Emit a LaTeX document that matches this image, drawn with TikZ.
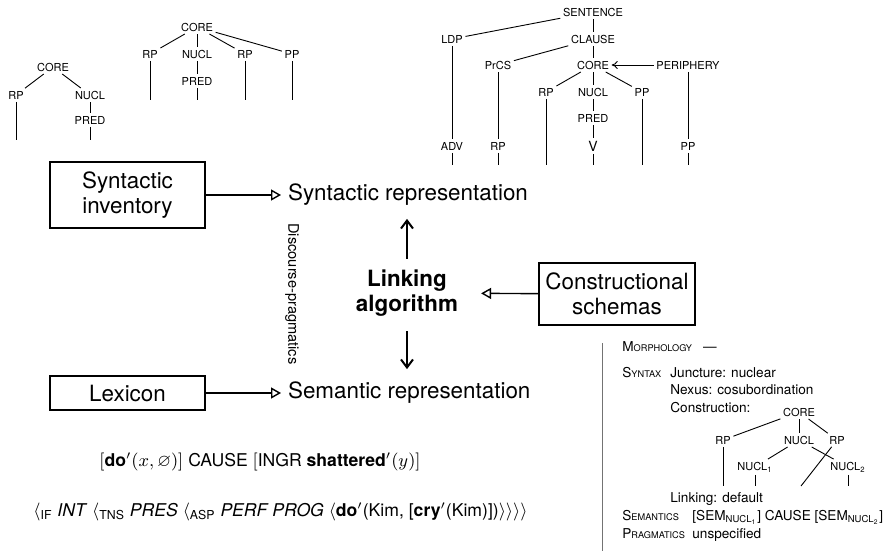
\documentclass[tikz,border=0pt]{standalone}
\usepackage{fontspec}
\setmainfont{TeX Gyre Heros}
\usepackage{amssymb}
\usetikzlibrary{arrows.meta,positioning}

\def\treefont{\fontsize{5.5}{6.5}\selectfont}
\def\bigfont{\fontsize{11.2}{12.5}\selectfont}
\def\discfont{\fontsize{7.3}{8}\selectfont}
\def\formfont{\fontsize{8.8}{10}\selectfont}
\def\panelfont{\fontsize{6.8}{8}\selectfont}
\newcommand{\fakesc}[2]{#1{\fontsize{4.6}{6}\selectfont #2}}

\begin{document}
\begin{tikzpicture}[x=0.5pt,y=-0.5pt]
    \tikzstyle{lbl}=[font=\treefont, inner sep=1.2pt]
    \tikzstyle{branch}=[draw=black, line width=0.45pt]
    \tikzstyle{srcbox}=[draw, line width=0.7pt, font=\bigfont, align=center, minimum width=77.5pt]
    \tikzstyle{repr}=[font=\bigfont, anchor=west]
    \tikzstyle{feed}=[draw, line width=0.7pt, -{Triangle[open,length=5pt,width=5.5pt]}]
    \tikzstyle{link arrow}=[draw, line width=1pt, -{Straight Barb[length=4pt,width=6pt]}]
    \tikzstyle{row}=[font=\panelfont, anchor=base west, inner sep=0pt]

    \useasboundingbox (0,0) rectangle (892,552);

    % Draw the small core tree
    \node[lbl] (A-core) at (53,67) {CORE};
    \node[lbl] (A-rp) at (16,95) {RP};
    \node[lbl] (A-nucl) at (90,95) {NUCL};
    \node[lbl] (A-pred) at (90,120) {PRED};
    \coordinate (A-rp-end) at (16,140);
    \coordinate (A-pred-end) at (90,140);
    \path[branch] (A-core) edge (A-rp) edge (A-nucl);
    \path[branch] (A-nucl) edge (A-pred);
    \path[branch] (A-rp) edge (A-rp-end);
    \path[branch] (A-pred) edge (A-pred-end);

    % Draw the core tree with four arguments
    \node[lbl] (B-core) at (197,27) {CORE};
    \node[lbl] (B-rp1) at (150,54) {RP};
    \node[lbl] (B-nucl) at (197,54) {NUCL};
    \node[lbl] (B-rp2) at (245,54) {RP};
    \node[lbl] (B-pp) at (292,54) {PP};
    \node[lbl] (B-pred) at (197,81) {PRED};
    \path[branch] (B-core) edge (B-rp1) edge (B-nucl) edge (B-rp2) edge (B-pp);
    \path[branch] (B-nucl) edge (B-pred);
    \foreach \name / \x in {rp1/150,pred/197,rp2/245,pp/292} {
        \coordinate (B-\name-end) at (\x,100);
        \path[branch] (B-\name) edge (B-\name-end);
    }

    % Draw the sentence tree
    \node[lbl] (C-sent) at (593,12) {SENTENCE};
    \node[lbl] (C-ldp) at (452,39) {LDP};
    \node[lbl] (C-clause) at (593,39) {CLAUSE};
    \node[lbl] (C-prcs) at (498,65) {PrCS};
    \node[lbl] (C-core) at (593,65) {CORE};
    \node[lbl] (C-peri) at (688,65) {PERIPHERY};
    \node[lbl] (C-rp) at (546,92) {RP};
    \node[lbl] (C-nucl) at (593,92) {NUCL};
    \node[lbl] (C-pp) at (642,92) {PP};
    \node[lbl] (C-pred) at (593,118) {PRED};
    \node[lbl] (C-adv) at (452,146) {ADV};
    \node[lbl] (C-rp2) at (498,146) {RP};
    \node[lbl, font=\fontsize{7}{8}\selectfont] (C-v) at (593,146) {V};
    \node[lbl] (C-pp2) at (688,146) {PP};
    \path[branch] (C-sent) edge (C-ldp) edge (C-clause);
    \path[branch] (C-clause) edge (C-prcs) edge (C-core);
    \path[branch] (C-core) edge (C-rp) edge (C-nucl) edge (C-pp);
    \path[branch] (C-nucl) edge (C-pred);
    \path[branch] (C-pred) edge (C-v);
    \path[branch] (C-ldp) edge (C-adv);
    \path[branch] (C-prcs) edge (C-rp2);
    \path[branch] (C-peri) edge (C-pp2);
    \path[branch, -{To[length=3pt,width=4pt]}] (C-peri) edge (C-core);
    \foreach \name / \x in {adv/452,rp2/498,rp/546,v/593,pp/642,pp2/688} {
        \coordinate (C-\name-end) at (\x,165);
        \path[branch] (C-\name) edge (C-\name-end);
    }

    % Draw the linking system
    \node[srcbox, minimum height=33pt] (syninv) at (127.5,195) {Syntactic\\inventory};
    \node[srcbox, minimum height=17pt] (lex) at (127.5,393) {Lexicon};
    \node[srcbox, minimum height=31pt, minimum width=78pt, inner xsep=2pt] (cons) at (617,294) {Constructional\\schemas};
    \node[repr] (synrep) at (281,195) {Syntactic representation};
    \node[repr] (semrep) at (281,393) {Semantic representation};
    \node[font=\bfseries\bigfont, align=center] (link) at (407,293) {Linking\\algorithm};
    \node[font=\discfont, rotate=-90] (disc) at (292,294) {Discourse-pragmatics};

    \path[feed] (syninv) edge (synrep);
    \path[feed] (lex) edge (semrep);
    \path[feed, shorten >=8pt] (cons) edge (link);
    \draw[link arrow, shorten <=2pt, shorten >=3pt] (link.north) -- (link.north |- synrep.south);
    \draw[link arrow, shorten <=4pt, shorten >=3pt] (link.south) -- (link.south |- semrep.north);

    % Annotate the representations
    \node[font=\formfont] (lsc) at (260,462)
        {$[$\textbf{do}$'(x,\varnothing)]$ CAUSE $[$INGR \textbf{shattered}$'(y)]$};
    \node[font=\formfont, anchor=west, inner sep=0pt] (ops) at (33,512)
        {$\langle$\textsubscript{IF} \textit{INT} $\langle$\textsubscript{TNS} \textit{PRES} $\langle$\textsubscript{ASP} \textit{PERF PROG} $\langle$\textbf{do}$'$(Kim, [\textbf{cry}$'$(Kim)])$\rangle\rangle\rangle\rangle$};

    % Draw the construction schema
    \draw[line width=0.4pt, black!55] (602,343) -- (602,551);
    \node[row] (morph) at (622,351) {\fakesc{M}{ORPHOLOGY}\hspace{5.5pt}---};
    \node[row] (syn) at (622,377) {\fakesc{S}{YNTAX}};
    \node[row] (junc) at (670,377) {Juncture: nuclear};
    \node[row] (nexus) at (670,394) {Nexus: cosubordination};
    \node[row] (constr) at (670,412) {Construction:};
    \node[row] (linking) at (670,502) {Linking: default};
    \node[row] (sem) at (622,520) {\fakesc{S}{EMANTICS}};
    \node[row] (semval) at (692,520) {[SEM\textsubscript{NUCL\textsubscript{1}}] CAUSE [SEM\textsubscript{NUCL\textsubscript{2}}]};
    \node[row] (prag) at (622,538) {\fakesc{P}{RAGMATICS}};
    \node[row] (pragval) at (692,538) {unspecified};

    \node[lbl] (D-core) at (799,412) {CORE};
    \node[lbl] (D-rp1) at (723,440) {RP};
    \node[lbl] (D-nucl) at (799,440) {NUCL};
    \node[lbl] (D-rp2) at (837,440) {RP};
    \node[lbl] (D-n1) at (755,467) {NUCL\textsubscript{1}};
    \node[lbl] (D-n2) at (848,467) {NUCL\textsubscript{2}};
    \path[branch] (D-core) edge (D-rp1) edge (D-nucl) edge (D-rp2);
    \path[branch] (D-nucl) edge (D-n1) edge (D-n2);
    \foreach \name / \x in {rp1/723,n1/755,n2/848,rp2/801} {
        \coordinate (D-\name-end) at (\x,486);
        \path[branch] (D-\name) edge (D-\name-end);
    }
\end{tikzpicture}
\end{document}
